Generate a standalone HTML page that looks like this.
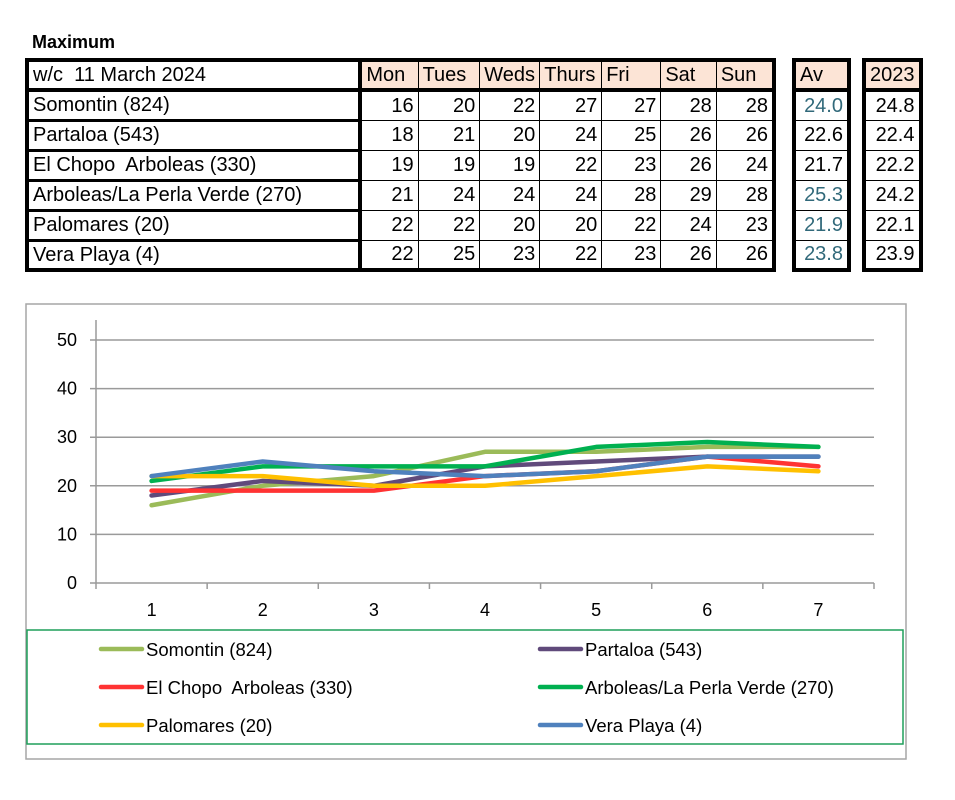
<!DOCTYPE html>
<html><head><meta charset="utf-8"><style>
body{margin:0;background:#fff;width:955px;height:800px;position:relative;font-family:"Liberation Sans",sans-serif;overflow:hidden}
.t{position:absolute;border-collapse:collapse;font-size:20px}
.t tr{height:30px}
.t td{border:1px solid #000;height:30px;padding:0 4px;box-sizing:border-box;white-space:nowrap;line-height:26px}
.h td{background:#fce4d6}
.n{text-align:right}
.av{color:#31697a}
</style></head><body>
<div style="position:absolute;left:32px;top:32px;font-weight:bold;font-size:18px">Maximum</div>

<table class="t" style="left:25px;top:58px;width:751px;border:4px solid #000">
<colgroup><col style="width:335px"><col style="width:58px"><col style="width:62px"><col style="width:60px"><col style="width:62px"><col style="width:60px"><col style="width:56px"><col style="width:58px"></colgroup>
<tr class="h" style="border-bottom:4px solid #000"><td style="background:#fff;border-right:4px solid #000">w/c&nbsp; 11 March 2024</td><td>Mon</td><td>Tues</td><td>Weds</td><td>Thurs</td><td>Fri</td><td>Sat</td><td>Sun</td></tr>
<tr><td style="border-right:4px solid #000;border-bottom:3px solid #000">Somontin (824)</td><td class="n">16</td><td class="n">20</td><td class="n">22</td><td class="n">27</td><td class="n">27</td><td class="n">28</td><td class="n">28</td></tr>
<tr><td style="border-right:4px solid #000;border-bottom:3px solid #000">Partaloa (543)</td><td class="n">18</td><td class="n">21</td><td class="n">20</td><td class="n">24</td><td class="n">25</td><td class="n">26</td><td class="n">26</td></tr>
<tr><td style="border-right:4px solid #000;border-bottom:3px solid #000">El Chopo&nbsp; Arboleas (330)</td><td class="n">19</td><td class="n">19</td><td class="n">19</td><td class="n">22</td><td class="n">23</td><td class="n">26</td><td class="n">24</td></tr>
<tr><td style="border-right:4px solid #000;border-bottom:3px solid #000">Arboleas/La Perla Verde (270)</td><td class="n">21</td><td class="n">24</td><td class="n">24</td><td class="n">24</td><td class="n">28</td><td class="n">29</td><td class="n">28</td></tr>
<tr><td style="border-right:4px solid #000;border-bottom:3px solid #000">Palomares (20)</td><td class="n">22</td><td class="n">22</td><td class="n">20</td><td class="n">20</td><td class="n">22</td><td class="n">24</td><td class="n">23</td></tr>
<tr><td style="border-right:4px solid #000">Vera Playa (4)</td><td class="n">22</td><td class="n">25</td><td class="n">23</td><td class="n">22</td><td class="n">23</td><td class="n">26</td><td class="n">26</td></tr>
</table>

<table class="t" style="left:792px;top:58px;width:59px;border:4px solid #000">
<tr class="h" style="border-bottom:4px solid #000"><td>Av</td></tr>
<tr><td class="n av">24.0</td></tr><tr><td class="n">22.6</td></tr><tr><td class="n">21.7</td></tr><tr><td class="n av">25.3</td></tr><tr><td class="n av">21.9</td></tr><tr><td class="n av">23.8</td></tr>
</table>
<table class="t" style="left:862px;top:58px;width:60px;border:4px solid #000">
<tr class="h" style="border-bottom:4px solid #000"><td class="n">2023</td></tr>
<tr><td class="n">24.8</td></tr><tr><td class="n">22.4</td></tr><tr><td class="n">22.2</td></tr><tr><td class="n">24.2</td></tr><tr><td class="n">22.1</td></tr><tr><td class="n">23.9</td></tr>
</table>

<svg id="chart" width="955" height="800" style="position:absolute;left:0;top:0" font-family="Liberation Sans, sans-serif"></svg>
<script>
const categories=["1","2","3","4","5","6","7"];
const yTicks=[0,10,20,30,40,50];
const seriesNames=["Somontin (824)","Partaloa (543)","El Chopo  Arboleas (330)","Arboleas/La Perla Verde (270)","Palomares (20)","Vera Playa (4)"];
const somontin=[16,20,22,27,27,28,28];
const partaloa=[18,21,20,24,25,26,26];
const elChopo=[19,19,19,22,23,26,24];
const arboleas=[21,24,24,24,28,29,28];
const palomares=[22,22,20,20,22,24,23];
const veraPlaya=[22,25,23,22,23,26,26];
const seriesColors=["#9bbb59","#604a7b","#ff3333","#00b050","#ffc000","#4f81bd"];
const NS="http://www.w3.org/2000/svg";
const svg=document.getElementById('chart');
const x0=96,x1=874,y0=583,y1=340;
const band=(x1-x0)/categories.length;
const xs=i=>x0+band*(i+0.5);
const ys=v=>y0-(v/50)*(y0-y1);
function mk(t,a,p){const e=document.createElementNS(NS,t);for(const k in a)e.setAttribute(k,a[k]);(p||svg).appendChild(e);return e;}
const frame=mk('rect',{x:26,y:304,width:880,height:455,fill:'none',stroke:'#a6a6a6','stroke-width':1.5});


yTicks.forEach(v=>{
 const g=mk('line',{x1:x0-6,x2:x1,y1:ys(v),y2:ys(v),stroke:'#9a9a9a','stroke-width':1.5});
 
 
 const t=mk('text',{x:77,y:ys(v)+6,'text-anchor':'end','font-size':18,fill:'#000'});
 t.textContent=v;
 
 
});
const ax=mk('line',{x1:x0,x2:x0,y1:y1-20,y2:y0,stroke:'#9a9a9a','stroke-width':1.5});


for(let i=0;i<=categories.length;i++){
 const tk=mk('line',{x1:x0+band*i,x2:x0+band*i,y1:y0,y2:y0+6,stroke:'#9a9a9a','stroke-width':1.5});
 
 
}
categories.forEach((c,i)=>{
 const t=mk('text',{x:xs(i),y:616,'text-anchor':'middle','font-size':18});
 t.textContent=c;
 
 
});
const data=[somontin,partaloa,elChopo,arboleas,palomares,veraPlaya];
data.forEach((s,k)=>{
 const p=mk('polyline',{points:s.map((v,i)=>xs(i)+','+ys(v)).join(' '),fill:'none',stroke:seriesColors[k],'stroke-width':4.5,'stroke-linejoin':'round','stroke-linecap':'round'});
 
 
});
const lg=mk('rect',{x:27,y:630,width:876,height:114,fill:'none',stroke:'#1f9f5a','stroke-width':1.5});


seriesNames.forEach((n,k)=>{
 const col=k%2,row=Math.floor(k/2);
 const lx=col?540:101, ly=649+row*38;
 const l=mk('line',{x1:lx,x2:lx+41,y1:ly,y2:ly,stroke:seriesColors[k],'stroke-width':4.5,'stroke-linecap':'round'});
 
 
 const t=mk('text',{x:lx+45,y:ly+7,'font-size':18.5});
 t.textContent=n;
 t.setAttribute('xml:space','preserve');
 t.style.whiteSpace='pre';
 
 
});
</script>
</body></html>
